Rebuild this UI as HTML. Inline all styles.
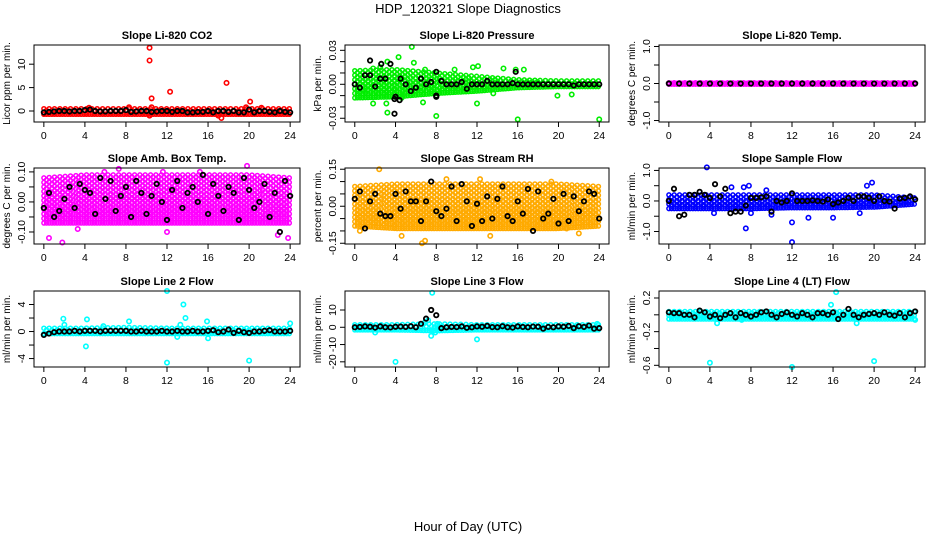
<!DOCTYPE html>
<html><head><meta charset="utf-8"><title>HDP_120321 Slope Diagnostics</title>
<style>
html,body{margin:0;padding:0;background:#fff;}
svg{display:block;font-family:"Liberation Sans",Arial,sans-serif;}
.pt{font-weight:bold;font-size:11px;}
.tk{font-size:10.5px;}
</style></head>
<body>
<svg id="chart" width="936" height="540" viewBox="0 0 936 540">
<text x="468" y="13" text-anchor="middle" font-size="13">HDP_120321  Slope Diagnostics</text>
<text x="468" y="531" text-anchor="middle" font-size="13">Hour of Day (UTC)</text>
</svg>
<script>
// ---- data ----
const xTicks = [0,4,8,12,16,20,24];
const envHours = [0,4,8,12,16,20,24];

const co2Lo = [-0.7,-0.7,-0.7,-0.7,-0.7,-0.7,-0.7];
const co2Hi = [0.5,0.5,0.5,0.5,0.5,0.5,0.5];
const co2Out = [[10.3,13.5],[10.3,10.8],[10.5,2.7],[10.5,0.8],[12.3,4.1],[17.8,6],[20.1,2],[17.3,-1.5],[17,-1],[8.3,0.8],[19.7,0.8],[10.3,-1],[4.4,0.7],[21.2,0.7]];
const co2Black = [-0.3,-0.2,-0.1,0,0,-0.1,0,0,0.2,0.3,0,-0.1,-0.1,0,0,0,0.2,-0.2,-0.1,0,0,-0.2,-0.1,0,0,-0.2,0,0,-0.3,-0.3,-0.2,-0.2,0,-0.3,0,0,-0.2,0,-0.3,-0.3,0.3,-0.3,0,0,-0.2,-0.3,0,-0.2,-0.3];

const pressLo = [-0.012,-0.011,-0.008,-0.006,-0.003,-0.002,-0.002];
const pressHi = [0.012,0.013,0.01,0.007,0.004,0.003,0.003];
const pressOut = [[5.6,0.033],[4.3,0.024],[3.2,0.02],[2.5,0.015],[1.8,0.014],[5.8,0.019],[6.9,0.013],[9.8,0.013],[11.6,0.015],[12.1,0.016],[14.6,0.014],[15.8,0.013],[16.6,0.013],[3.1,-0.017],[3.2,-0.025],[1.8,-0.017],[8.0,-0.028],[12.0,-0.017],[16,-0.031],[24,-0.031],[6.7,-0.016],[21.3,-0.009],[19.9,-0.01],[13.6,-0.008],[4.6,-0.012],[0.9,-0.005]];
const pressBlack = [0,-0.003,0.008,0.008,-0.002,0.005,0.005,0.018,-0.011,0.005,0,-0.006,-0.003,0.005,0,0.002,-0.01,0.003,0,0,0,0.002,-0.004,0,0,0,0.003,0,0,0,0,0.001,0,0,0,0,0,0,0,0,0,0,0,-0.001,0,0,0,0,0];
const pressBlackExtra = [[1.5,0.021],[2.6,0.018],[3.9,-0.026],[3.9,-0.013],[4.4,-0.014],[8,-0.011],[8,0.011],[15.8,0.011]];

const tempLo = [-0.02,-0.02,-0.02,-0.02,-0.02,-0.02,-0.02];
const tempHi = [0.02,0.02,0.02,0.02,0.02,0.02,0.02];
const tempOut = [];
const tempBlack = [0,0,0,0,0,0,0,0,0,0,0,0,0,0,0,0,0,0,0,0,0,0,0,0,0];

const ambLo = [-0.07,-0.07,-0.07,-0.07,-0.07,-0.07,-0.07];
const ambHi = [0.08,0.09,0.09,0.09,0.09,0.09,0.08];
const ambOut = [[0.5,-0.12],[7.3,0.11],[19.8,0.12],[23.8,-0.12],[22.8,-0.11],[11.6,0.1],[3.3,-0.09],[12,-0.1],[1.8,-0.135],[5.9,0.1],[15.2,0.1]];
const ambBlack = [-0.02,0.03,-0.05,-0.03,0.01,0.05,-0.02,0.06,0.04,0.03,-0.04,0.08,0.01,0.07,-0.03,0.02,0.05,-0.05,0.07,0.03,-0.04,0.02,0.06,0,-0.06,0.04,0.07,-0.02,0.03,0.05,0,0.09,-0.04,0.06,0.02,-0.03,0.05,0.03,-0.06,0.08,0.04,-0.02,0,0.06,-0.05,0.03,-0.1,0.07,0.02];

const rhLo = [-0.08,-0.09,-0.09,-0.09,-0.09,-0.09,-0.08];
const rhHi = [0.08,0.09,0.09,0.09,0.09,0.09,0.08];
const rhOut = [[2.4,0.15],[12.3,0.11],[6.6,-0.15],[6.9,-0.14],[0.5,-0.1],[4.6,-0.12],[13.3,-0.12],[22,-0.11],[20.8,-0.09],[9.0,0.11],[19.3,0.1]];
const rhBlack = [0.03,0.06,-0.09,0.02,0.05,-0.03,-0.04,-0.04,0.05,-0.01,0.06,0.02,0.02,-0.06,0.02,0.1,-0.02,-0.04,-0.01,0.08,-0.06,0.09,0.02,-0.08,0.01,-0.06,0.04,-0.05,0.03,0.08,-0.04,-0.06,0.02,-0.03,0.07,-0.1,0.06,-0.05,-0.03,0.03,-0.07,0.05,-0.06,0.04,-0.02,0.02,0.06,0.05,-0.05];

const sampLo = [-0.25,-0.25,-0.25,-0.22,-0.22,-0.2,-0.1];
const sampHi = [0.2,0.2,0.2,0.2,0.2,0.2,0.1];
const sampOut = [[3.7,1.1],[19.8,0.6],[19.3,0.5],[7.8,0.5],[7.3,0.45],[6.1,0.45],[7.5,-0.9],[12,-0.7],[12,-1.35],[13.6,-0.55],[16,-0.55],[10,-0.45],[8,-0.4],[4.4,-0.4],[18.6,-0.4],[9.5,0.35]];
const sampBlack = [0,0.4,-0.5,-0.45,0.2,0.2,0.3,0.2,0.1,0.55,0.15,0.4,-0.4,-0.35,-0.35,-0.15,0.1,0.1,0.12,0.15,-0.35,0,-0.05,0,0.25,0,0,0,0.02,0,-0.02,0.05,-0.1,-0.05,0,0.1,0,0.15,0.15,0.1,0,0.15,0,-0.02,-0.25,0.08,0.1,0.15,0.05];

const l2Lo = [-0.3,-0.3,-0.3,-0.3,-0.3,-0.3,-0.3];
const l2Hi = [0.5,0.5,0.6,0.5,0.5,0.5,0.5];
const l2Out = [[12,6],[13.6,4],[13.8,2],[13.3,1],[13.0,-0.8],[12,-4.6],[20,-4.3],[4.1,-2.2],[1.9,1.9],[4.2,1.8],[24,1.2],[8.3,1.5],[15.9,1.5],[16,-1],[2,1],[5.8,0.8]];
const l2Black = [-0.5,-0.3,-0.1,0,0,0,0.1,0,0.1,0.1,0.1,0,0.1,0.1,0.1,0.1,0.1,0,0,0.1,0,0,0,0.1,0,0,0.1,0,0,0.1,0,0,0.1,0.2,-0.1,0,0.3,-0.2,0.1,-0.1,-0.2,0,0,0.1,0.2,0,0,0,0.1];

const l3Lo = [-1.5,-1.5,-2,-1.5,-1.5,-1.5,-1.5];
const l3Hi = [1.5,1.5,2,1.5,1.5,1.5,1.5];
const l3Out = [[7.6,20],[4,-20],[12,-7],[7.5,-5],[7.9,-3],[7.2,4],[6.9,3],[2,-3],[23.8,2],[7.7,-2],[8.1,2]];
const l3Black = [0,0.2,0.5,0.3,-0.2,0.5,0,-0.1,0.3,0.4,0.2,0.6,0,2,5,10,7,-0.5,0,0.2,0.1,0.5,-0.3,0,0.5,0.3,0.8,0.1,0,0.6,0,-0.2,0.5,0.2,0,0.4,0.3,-0.8,0.2,0,0.5,0.3,0.8,-0.5,0.6,0.2,1,-0.8,-0.5];

const l4Lo = [-0.05,-0.05,-0.05,-0.05,-0.05,-0.05,-0.05];
const l4Hi = [0.04,0.04,0.04,0.04,0.04,0.04,0.04];
const l4Out = [[4,-0.57],[12,-0.62],[20,-0.55],[16.3,0.27],[15.8,0.12],[4.7,-0.1],[18.3,-0.1],[7.1,-0.06],[24,-0.06]];
const l4Black = [0.03,0.02,0.02,0,0,-0.03,0.05,0.03,-0.02,0,-0.04,0,0.02,-0.03,0.02,0,-0.02,0,0.03,0.04,0,-0.03,0.01,0.03,0,-0.02,0.02,0,-0.03,0.02,0.02,0,0.03,-0.05,0,0.07,0,-0.03,0,0.01,0.02,0,0.03,0,-0.01,0.02,-0.03,0.02,0.04];

// ---- layout ----
const NS = "http://www.w3.org/2000/svg";
const svg = document.getElementById('chart');
const cols = [{x0:34,x1:300},{x0:345,x1:609},{x0:659,x1:925}];
const rows = [{y0:45,y1:122},{y0:168,y1:244},{y0:291,y1:367}];
const panels = [
 {name:'co2',title:'Slope Li-820 CO2',ylab:'Licor ppm per min.',c:0,r:0,ymin:-2.35,ymax:14.1,ticks:[0,5,10],labels:[0,5,10],dec:0,col:'#ff0000',lo:co2Lo,hi:co2Hi,out:co2Out,black:co2Black,extra:[]},
 {name:'pressure',title:'Slope Li-820 Pressure',ylab:'kPa per min.',c:1,r:0,ymin:-0.0333,ymax:0.0347,ticks:[-0.03,-0.02,-0.01,0,0.01,0.02,0.03],labels:[-0.03,0,0.03],dec:2,col:'#00ee00',lo:pressLo,hi:pressHi,out:pressOut,black:pressBlack,extra:pressBlackExtra},
 {name:'temp',title:'Slope Li-820 Temp.',ylab:'degrees C per min.',c:2,r:0,ymin:-1.04,ymax:1.04,ticks:[-1,-0.5,0,0.5,1],labels:[-1,0,1],dec:1,col:'#ff00ff',lo:tempLo,hi:tempHi,out:tempOut,black:tempBlack,extra:[]},
 {name:'amb-box',title:'Slope Amb. Box Temp.',ylab:'degrees C per min.',c:0,r:1,ymin:-0.14,ymax:0.113,ticks:[-0.1,-0.05,0,0.05,0.1],labels:[-0.1,0,0.1],dec:2,col:'#ff00ff',lo:ambLo,hi:ambHi,out:ambOut,black:ambBlack,extra:[]},
 {name:'rh',title:'Slope Gas Stream RH',ylab:'percent per min.',c:1,r:1,ymin:-0.153,ymax:0.155,ticks:[-0.15,-0.1,-0.05,0,0.05,0.1,0.15],labels:[-0.15,0,0.15],dec:2,col:'#ffaa00',lo:rhLo,hi:rhHi,out:rhOut,black:rhBlack,extra:[]},
 {name:'sample-flow',title:'Slope Sample Flow',ylab:'ml/min per min.',c:2,r:1,ymin:-1.41,ymax:1.08,ticks:[-1,-0.5,0,0.5,1],labels:[-1,0,1],dec:1,col:'#0000ff',lo:sampLo,hi:sampHi,out:sampOut,black:sampBlack,extra:[]},
 {name:'line2',title:'Slope Line 2 Flow',ylab:'ml/min per min.',c:0,r:2,ymin:-5.25,ymax:6.0,ticks:[-4,-2,0,2,4],labels:[-4,0,4],dec:0,col:'#00ffff',lo:l2Lo,hi:l2Hi,out:l2Out,black:l2Black,extra:[]},
 {name:'line3',title:'Slope Line 3 Flow',ylab:'ml/min per min.',c:1,r:2,ymin:-23,ymax:21,ticks:[-20,-10,0,10],labels:[-20,-10,0,10],dec:0,col:'#00ffff',lo:l3Lo,hi:l3Hi,out:l3Out,black:l3Black,extra:[]},
 {name:'line4',title:'Slope Line 4 (LT) Flow',ylab:'ml/min per min.',c:2,r:2,ymin:-0.62,ymax:0.283,ticks:[-0.6,-0.4,-0.2,0,0.2],labels:[-0.6,-0.2,0.2],dec:1,col:'#00ffff',lo:l4Lo,hi:l4Hi,out:l4Out,black:l4Black,extra:[]}
];

function el(tag, attrs, parent){
  const e = document.createElementNS(NS, tag);
  for (const k in attrs) e.setAttribute(k, attrs[k]);
  (parent||svg).appendChild(e);
  return e;
}
function interp(h, xs, ys){
  for (let i=0;i<xs.length-1;i++){
    if (h>=xs[i] && h<=xs[i+1]){ const t=(h-xs[i])/(xs[i+1]-xs[i]); return ys[i]+t*(ys[i+1]-ys[i]); }
  }
  return ys[ys.length-1];
}
function fmt(v, dec){ if (Math.abs(v)<1e-12) v=0; return v.toFixed(dec); }

panels.forEach(p => {
  const C = cols[p.c], R = rows[p.r];
  const xS = h => C.x0 + (h + 0.96) / 25.92 * (C.x1 - C.x0);
  const yS = v => R.y1 - (v - p.ymin) / (p.ymax - p.ymin) * (R.y1 - R.y0);
  const g = el('g', {});
  
  

  const t = el('text', {x:(C.x0+C.x1)/2, y:R.y0-6, 'text-anchor':'middle', class:'pt'}, g);
  t.textContent = p.title;
  
  

  // band of dense points (envelope, lattice of markers)
  const band = el('g', {fill:'none', stroke:p.col, 'stroke-width':'1.5'}, g);
  
  
  let col = 0;
  for (let h=0; h<=24.001; h+=0.26){
    const lo = interp(h, envHours, p.lo), hi = interp(h, envHours, p.hi);
    const yLo = yS(lo), yHi = yS(hi);
    const span = yLo - yHi;
    const n = Math.max(1, Math.round(span/4.5));
    const off = (col % 2) ? 0.5 : 0;
    for (let k=0;k<=n;k++){
      let f = (k + off) / (n + off);
      if (f > 1) f = 1;
      const y = yHi + span * f;
      el('circle', {cx:xS(h).toFixed(1), cy:y.toFixed(1), r:2}, band);
    }
    col++;
  }
  // outliers
  p.out.forEach(o => {
    const c = el('circle', {cx:xS(o[0]), cy:yS(o[1]), r:2.2, fill:'none', stroke:p.col, 'stroke-width':'1.6'}, g);
    
    
  });
  // black series
  const step = 24 / (p.black.length - 1);
  p.black.forEach((v,i) => {
    const c = el('circle', {cx:xS(i*step), cy:yS(v), r:2.2, fill:'none', stroke:'#000', 'stroke-width':'1.8'}, g);
    
    
  });
  p.extra.forEach(o => {
    const c = el('circle', {cx:xS(o[0]), cy:yS(o[1]), r:2.2, fill:'none', stroke:'#000', 'stroke-width':'1.8'}, g);
    
    
  });

  // box
  const b = el('rect', {x:C.x0, y:R.y0, width:C.x1-C.x0, height:R.y1-R.y0, fill:'none', stroke:'#000', 'stroke-width':'1'}, g);
  
  

  // x axis
  const xa = el('g', {}, g);
  
  
  el('line', {x1:xS(xTicks[0]), x2:xS(xTicks[xTicks.length-1]), y1:R.y1, y2:R.y1, stroke:'#000'}, xa);
  xTicks.forEach(h => {
    el('line', {x1:xS(h), x2:xS(h), y1:R.y1, y2:R.y1+5, stroke:'#000'}, xa);
    const tl = el('text', {x:xS(h), y:R.y1+17, 'text-anchor':'middle', class:'tk'}, xa);
    tl.textContent = h;
  });

  // y axis
  const ya = el('g', {}, g);
  
  
  el('line', {x1:C.x0, x2:C.x0, y1:yS(p.ticks[0]), y2:yS(p.ticks[p.ticks.length-1]), stroke:'#000'}, ya);
  p.ticks.forEach(v => {
    el('line', {x1:C.x0-5, x2:C.x0, y1:yS(v), y2:yS(v), stroke:'#000'}, ya);
  });
  p.labels.forEach(v => {
    const y = yS(v), x = C.x0 - 9;
    const tl = el('text', {x:x, y:y, 'text-anchor':'middle', class:'tk', transform:'rotate(-90 '+x+' '+y+')'}, ya);
    tl.textContent = fmt(v, p.dec);
  });
  const yx = C.x0 - 24, yy = (R.y0 + R.y1)/2;
  const yt = el('text', {x:yx, y:yy, 'text-anchor':'middle', 'font-size':'10', transform:'rotate(-90 '+yx+' '+yy+')'}, g);
  yt.textContent = p.ylab;
  
  
});
</script>
</body></html>
